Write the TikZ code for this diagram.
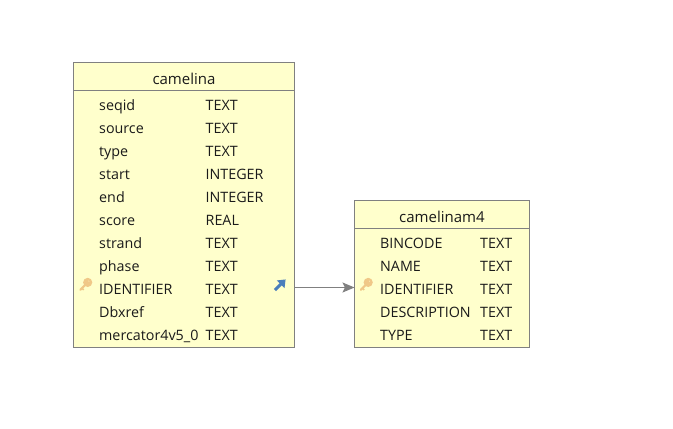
\documentclass[tikz,border=0pt]{standalone}
\usepackage{fontspec}
\setmainfont{Open Sans}
\usetikzlibrary{arrows.meta}
\definecolor{tablefill}{HTML}{FFFFCC}
\definecolor{tableline}{HTML}{808080}
\definecolor{keycol}{HTML}{F0C888}
\definecolor{fkblue}{HTML}{4A7EBB}
\definecolor{txt}{HTML}{1A1A1A}
\tikzset{
  x=1pt,y=-1pt,
  tablebox/.style={draw=tableline,fill=tablefill,line width=1pt,rectangle,inner sep=0pt,outer sep=0pt,anchor=north west},
  title/.style={font=\fontsize{15}{18}\selectfont,text=txt,anchor=base},
  cell/.style={font=\fontsize{14.3}{16}\selectfont,text=txt,anchor=base west,inner sep=0pt},
  rule/.style={draw=tableline,line width=1pt},
  rel/.style={draw=tableline,line width=1pt,-{Stealth[length=12pt,width=10pt,inset=2.5pt]}},
}
\newcommand{\keyicon}[2]{%
  \begin{scope}[shift={(#1,#2)}]
    \fill[keycol] (2.2,-1.6) circle (4.6pt);
    \draw[keycol,line width=2.2pt,line cap=round] (1,-0.4) -- (-5.2,5.8);
    \draw[keycol,line width=1.6pt] (-3.6,4.2) -- (-1.8,6);
    \draw[tablefill,line width=0.9pt] (3.2,-2.6) -- (3.6,-3);
  \end{scope}}
\begin{document}
\begin{tikzpicture}
\useasboundingbox (0,0) rectangle (673,429);
\fill[white] (0,0) rectangle (673,429);
% camelina
\node[tablebox,minimum width=221pt,minimum height=285pt] (camelina) at (73.5,62.5) {};
\draw[rule] (73.5,90.5) -- (294.5,90.5);
\node[title] (t1) at (184,84) {camelina};
\node[cell] (a1) at (99,110.5) {seqid};
\node[cell] (a1t) at (205.5,110.5) {TEXT};
\node[cell] (a2) at (99,133.5) {source};
\node[cell] (a2t) at (205.5,133.5) {TEXT};
\node[cell] (a3) at (99,156.5) {type};
\node[cell] (a3t) at (205.5,156.5) {TEXT};
\node[cell] (a4) at (99,179.5) {start};
\node[cell] (a4t) at (205.5,179.5) {INTEGER};
\node[cell] (a5) at (99,202.5) {end};
\node[cell] (a5t) at (205.5,202.5) {INTEGER};
\node[cell] (a6) at (99,225.5) {score};
\node[cell] (a6t) at (205.5,225.5) {REAL};
\node[cell] (a7) at (99,248.5) {strand};
\node[cell] (a7t) at (205.5,248.5) {TEXT};
\node[cell] (a8) at (99,271.5) {phase};
\node[cell] (a8t) at (205.5,271.5) {TEXT};
\node[cell] (a9) at (99,294.5) {IDENTIFIER};
\node[cell] (a9t) at (205.5,294.5) {TEXT};
\node[cell] (a10) at (99,317.5) {Dbxref};
\node[cell] (a10t) at (205.5,317.5) {TEXT};
\node[cell] (a11) at (99,340.5) {mercator4v5\_0};
\node[cell] (a11t) at (205.5,340.5) {TEXT};
\keyicon{85.5}{284}
\draw[fkblue,line width=3pt,-{Triangle[length=7pt,width=10.5pt]}] (275,290) -- (285.6,279.4);
% camelinam4
\node[tablebox,minimum width=175pt,minimum height=147pt] (camelinam) at (354.5,200.5) {};
\draw[rule] (354.5,228.5) -- (529.5,228.5);
\node[title] (t2) at (442,222) {camelinam4};
\node[cell] (b1) at (380,248.5) {BINCODE};
\node[cell] (b1t) at (480,248.5) {TEXT};
\node[cell] (b2) at (380,271.5) {NAME};
\node[cell] (b2t) at (480,271.5) {TEXT};
\node[cell] (b3) at (380,294.5) {IDENTIFIER};
\node[cell] (b3t) at (480,294.5) {TEXT};
\node[cell] (b4) at (380,317.5) {DESCRIPTION};
\node[cell] (b4t) at (480,317.5) {TEXT};
\node[cell] (b5) at (380,340.5) {TYPE};
\node[cell] (b5t) at (480,340.5) {TEXT};
\keyicon{366}{284}
% relation
\coordinate (fkout) at (camelina.east |- 0,287.5);
\coordinate (fkin) at (camelinam.west |- 0,287.5);
\draw[rel] (fkout) -- (fkin);
\end{tikzpicture}
\end{document}
